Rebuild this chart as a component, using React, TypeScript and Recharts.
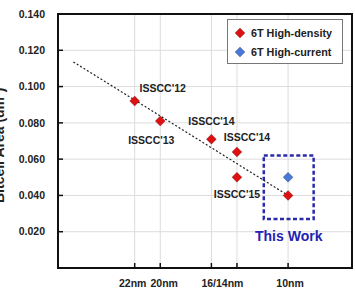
import { CartesianGrid, ReferenceArea, Scatter, ScatterChart, XAxis, YAxis } from "recharts";

const nodes = [22, 20, 16, 14, 14, 10];
const highDensity = [0.092, 0.081, 0.071, 0.064, 0.05, 0.04];
const papers = ["ISSCC'12", "ISSCC'13", "ISSCC'14", "ISSCC'14", "ISSCC'15", ""];

const currentNodes = [10];
const highCurrent = [0.05];

const trendNodes = [26.8, 10];
const trendArea = [0.1136, 0.04];

const xTicks = [22, 20, 16, 14, 10];
const xTickLabels: Record<number, string> = { 22: "22nm", 20: "20nm", 16: "16/14nm", 14: "", 10: "10nm" };
const yTicks = [0.02, 0.04, 0.06, 0.08, 0.1, 0.12, 0.14];

// nudges so the tick labels sit like the original
const xTickShift: Record<number, number> = { 22: -2, 20: 4, 16: 11, 14: 0, 10: 2 };

// where each publication label sits relative to its marker
const labelShift = [
  [28, -13],
  [-9, 19],
  [0, -18],
  [10, -15],
  [0, 17],
  [0, 0],
];

const RED = "#dd1111";
const BLUE = "#4a78d6";
const FONT = "'Liberation Sans', Arial, sans-serif";

const densityData = nodes.map((n, i) => ({ node: n, area: highDensity[i], label: papers[i], i }));
const currentData = currentNodes.map((n, i) => ({ node: n, area: highCurrent[i] }));
const trendData = trendNodes.map((n, i) => ({ node: n, area: trendArea[i] }));

function Diamond({ cx, cy, fill, r = 5 }: { cx: number; cy: number; fill: string; r?: number }) {
  return (
    <path
      d={`M${cx},${cy - r}L${cx + r},${cy}L${cx},${cy + r}L${cx - r},${cy}Z`}
      fill={fill}
      stroke="rgba(0,0,0,0.35)"
      strokeWidth={0.6}
    />
  );
}

function DensityShape(props: any) {
  const { cx, cy, payload } = props;
  const [dx, dy] = labelShift[payload.i];
  return (
    <g>
      <Diamond cx={cx} cy={cy} fill={RED} />
      {payload.label && (
        <text
          x={cx + dx}
          y={cy + dy}
          textAnchor="middle"
          dominantBaseline="central"
          fontFamily={FONT}
          fontWeight="bold"
          fontSize={10.5}
          fill="#222"
        >
          {payload.label}
        </text>
      )}
    </g>
  );
}

function XTick({ x, y, payload }: any) {
  const v = payload.value;
  return (
    <text
      x={x + (xTickShift[v] || 0)}
      y={y}
      dy="0.71em"
      textAnchor="middle"
      fontFamily={FONT}
      fontWeight="bold"
      fontSize={10.5}
      fill="#222"
    >
      {xTickLabels[v]}
    </text>
  );
}

function LegendBox() {
  const items = [
    { name: "6T High-density", color: RED },
    { name: "6T High-current", color: BLUE },
  ];
  return (
    <div
      style={{
        position: "absolute",
        left: 227,
        top: 19,
        width: 114,
        height: 43,
        border: "1px solid #777",
        background: "#fff",
      }}
    >
      {items.map((it, k) => (
        <div
          key={it.name}
          style={{
            position: "absolute",
            left: 6,
            top: 7 + k * 19,
            display: "flex",
            alignItems: "center",
            fontFamily: FONT,
            fontWeight: "bold",
            fontSize: 10.8,
            color: "#222",
            whiteSpace: "nowrap",
          }}
        >
          <svg width={12} height={12} style={{ marginRight: 5 }}>
            <Diamond cx={6} cy={6} fill={it.color} />
          </svg>
          {it.name}
        </div>
      ))}
    </div>
  );
}

export default function App() {
  return (
    <div style={{ position: "absolute", left: 0, top: 0, width: 355, height: 300, background: "#fff" }}>
      <ScatterChart width={355} height={300} margin={{ top: 14, right: 3, left: 0, bottom: 0 }}>
        <CartesianGrid stroke="#dcdcdc" strokeWidth={1} />
        <XAxis
          type="number"
          dataKey="node"
          domain={[5, 28]}
          reversed
          ticks={xTicks}
          tick={<XTick />}
          height={32}
          tickSize={-5}
          tickMargin={17}
          axisLine={{ stroke: "#111", strokeWidth: 2 }}
          tickLine={{ stroke: "#111", strokeWidth: 1.5 }}
          allowDataOverflow
        />
        <YAxis
          type="number"
          dataKey="area"
          domain={[0, 0.14]}
          ticks={yTicks}
          tickFormatter={(v: number) => v.toFixed(3)}
          width={58}
          tickSize={-5}
          tickMargin={18}
          axisLine={{ stroke: "#111", strokeWidth: 2 }}
          tickLine={{ stroke: "#111", strokeWidth: 1.5 }}
          tick={{ fontFamily: FONT, fontWeight: "bold", fontSize: 10.5, fill: "#222" }}
          label={{
            value: "Bitcell Area (um²)",
            angle: -90,
            position: "insideLeft",
            dx: -6,
            dy: 62,
            style: { fontFamily: FONT, fontWeight: "bold", fontSize: 14, fill: "#222" },
          }}
          allowDataOverflow
        />
        <ReferenceArea
          x1={5}
          x2={28}
          y1={0}
          y2={0.14}
          fill="none"
          stroke="#111"
          strokeWidth={2}
          ifOverflow="visible"
        />
        <ReferenceArea
          x1={11.9}
          x2={8}
          y1={0.027}
          y2={0.062}
          fill="none"
          fillOpacity={0}
          stroke="#2a2aaa"
          strokeWidth={2.5}
          strokeDasharray="4 2.5"
          label={{
            value: "This Work",
            position: "bottom",
            offset: 12,
            style: { fontFamily: FONT, fontWeight: "bold", fontSize: 14, fill: "#2323b0" },
          }}
        />
        <Scatter
          data={trendData}
          line={{ stroke: "#222", strokeWidth: 1.2, strokeDasharray: "2 2" }}
          shape={() => <g />}
          isAnimationActive={false}
          legendType="none"
        />
        <Scatter
          name="6T High-density"
          data={densityData}
          fill={RED}
          shape={<DensityShape />}
          isAnimationActive={false}
        />
        <Scatter
          name="6T High-current"
          data={currentData}
          fill={BLUE}
          shape={(p: any) => <Diamond cx={p.cx} cy={p.cy} fill={BLUE} />}
          isAnimationActive={false}
        />
      </ScatterChart>
      <LegendBox />
    </div>
  );
}
